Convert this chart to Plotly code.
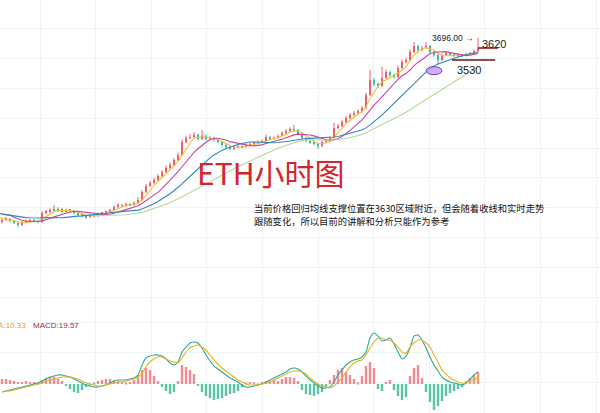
import pandas as pd
import plotly.graph_objects as go

# ---- ETH 1h candles (6 lead-in bars sit left of the visible window) ----
first_open = 2450
closes = [
    2435, 2420, 2398, 2375, 2352, 2315,
    2330, 2338, 2322, 2308, 2292, 2315, 2322, 2330, 2322, 2315,
    2383, 2390, 2405, 2398, 2412, 2390, 2405, 2398, 2383, 2368,
    2360, 2352, 2368, 2360, 2375, 2383, 2390, 2405, 2428, 2442,
    2435, 2450, 2442, 2458, 2480, 2540, 2585, 2608, 2630, 2660,
    2690, 2720, 2742, 2780, 2818, 2915, 2945, 2952, 2968, 2938,
    2960, 2938, 2945, 2930, 2915, 2892, 2878, 2862, 2878, 2885,
    2878, 2892, 2900, 2908, 2915, 2922, 2952, 2938, 2945, 2960,
    2982, 2998, 3012, 3005, 2975, 2945, 2922, 2908, 2900, 2885,
    2915, 2930, 2945, 3020, 3035, 3065, 3095, 3118, 3132, 3148,
    3170, 3268, 3380, 3350, 3335, 3395, 3440, 3418, 3402, 3470,
    3515, 3530, 3590, 3635, 3605, 3620, 3635, 3590, 3568, 3530,
    3568, 3582, 3568, 3560, 3568, 3560, 3575, 3582, 3598, 3620,
]
highs = [
    2462, 2445, 2428, 2405, 2382, 2360,
    2345, 2352, 2345, 2330, 2315, 2322, 2335, 2340, 2338, 2328,
    2398, 2405, 2418, 2442, 2425, 2420, 2415, 2412, 2405, 2390,
    2375, 2368, 2378, 2375, 2385, 2392, 2400, 2415, 2440, 2455,
    2450, 2462, 2458, 2470, 2502, 2555, 2600, 2622, 2645, 2675,
    2705, 2738, 2760, 2795, 2835, 2935, 2962, 2975, 2990, 2978,
    3005, 2970, 2960, 2955, 2940, 2922, 2900, 2885, 2890, 2898,
    2895, 2905, 2912, 2920, 2928, 2935, 2970, 2960, 2958, 2972,
    2995, 3012, 3025, 3042, 3012, 2982, 2952, 2930, 2915, 2908,
    2925, 2940, 2955, 3058, 3050, 3080, 3110, 3132, 3148, 3162,
    3185, 3285, 3455, 3395, 3362, 3478, 3458, 3450, 3428, 3488,
    3532, 3548, 3608, 3665, 3645, 3635, 3665, 3642, 3598, 3575,
    3578, 3592, 3590, 3575, 3578, 3575, 3585, 3592, 3608, 3696,
]
lows = [
    2425, 2410, 2390, 2368, 2340, 2305,
    2305, 2322, 2312, 2298, 2275, 2285, 2308, 2315, 2312, 2305,
    2310, 2372, 2380, 2388, 2390, 2380, 2385, 2388, 2375, 2360,
    2350, 2342, 2345, 2350, 2352, 2368, 2375, 2385, 2400, 2420,
    2425, 2430, 2435, 2438, 2450, 2472, 2530, 2575, 2598, 2620,
    2650, 2680, 2710, 2730, 2770, 2810, 2905, 2935, 2940, 2925,
    2930, 2925, 2930, 2918, 2905, 2882, 2865, 2850, 2855, 2870,
    2868, 2872, 2885, 2892, 2900, 2908, 2918, 2928, 2932, 2940,
    2955, 2975, 2990, 2995, 2965, 2935, 2912, 2898, 2890, 2862,
    2878, 2908, 2922, 2940, 3010, 3025, 3058, 3085, 3110, 3125,
    3140, 3162, 3260, 3335, 3320, 3328, 3385, 3405, 3390, 3395,
    3460, 3505, 3522, 3580, 3592, 3598, 3612, 3580, 3555, 3492,
    3522, 3560, 3558, 3550, 3552, 3552, 3555, 3568, 3575, 3590,
]
LEAD = 6

# ---- MACD panel values for the 120 visible bars ----
dif = [
    -13.0, -11.4, -9.8, -8.2, -6.5, -4.9, -3.3, -1.6, 0.0, 1.6,
    4.9, 8.2, 11.4, 13.0, 14.7, 14.7, 13.0, 11.4, 8.2, 4.9,
    1.6, -1.6, -3.3, -4.9, -4.9, -3.3, -1.6, 1.6, 4.9, 6.5,
    6.5, 6.5, 8.2, 9.8, 14.7, 31.0, 42.4, 45.6, 47.3, 47.3,
    45.6, 40.8, 34.2, 31.0, 35.9, 52.2, 60.3, 66.8, 68.5, 66.8,
    58.7, 47.3, 37.5, 29.3, 24.5, 19.6, 14.7, 9.8, 6.5, 3.3,
    -1.6, -4.9, -4.9, -3.3, -1.6, 0.0, 3.3, 6.5, 9.8, 13.0,
    16.3, 19.6, 24.5, 26.1, 24.5, 19.6, 13.0, 6.5, 1.6, -3.3,
    -6.5, -6.5, -4.9, 3.3, 14.7, 22.8, 31.0, 35.9, 39.1, 40.8,
    44.0, 52.2, 75.0, 83.1, 78.2, 70.1, 71.7, 75.0, 65.2, 52.2,
    40.8, 45.6, 58.7, 78.2, 79.9, 71.7, 58.7, 44.0, 31.0, 21.2,
    11.4, 6.5, 3.3, 1.6, 0.0, -1.6, 1.6, 8.0, 14.7, 20.115,
]
dea = [
    -13.0, -11.4, -11.4, -9.8, -8.2, -6.5, -4.9, -3.3, -1.6, 0.0,
    1.6, 4.9, 6.5, 8.2, 9.8, 11.4, 11.4, 11.4, 9.8, 8.2,
    4.9, 1.6, 0.0, -1.6, -3.3, -3.3, -1.6, 0.0, 1.6, 3.3,
    3.3, 4.9, 6.5, 8.2, 11.4, 17.9, 27.7, 35.9, 40.8, 44.0,
    44.0, 40.8, 37.5, 35.9, 34.2, 42.4, 52.2, 58.7, 61.9, 63.6,
    60.3, 55.4, 47.3, 39.1, 32.6, 26.1, 21.2, 16.3, 11.4, 6.5,
    3.3, 0.0, -1.6, -1.6, -1.6, 0.0, 1.6, 3.3, 6.5, 9.8,
    13.0, 16.3, 19.6, 21.2, 21.2, 19.6, 16.3, 9.8, 4.9, 0.0,
    -3.3, -4.9, -6.5, -3.3, 3.3, 9.8, 19.6, 27.7, 34.2, 37.5,
    39.1, 47.3, 58.7, 68.5, 75.0, 75.0, 71.7, 71.7, 66.8, 60.3,
    52.2, 50.5, 60.3, 66.8, 71.7, 71.7, 66.8, 60.3, 47.3, 35.9,
    22.8, 16.3, 9.8, 6.5, 3.3, 1.6, 1.6, 5.5, 7.5, 10.33,
]
macd_hist = [
    8.2, 8.2, 6.5, 4.9, 3.3, 3.3, 4.9, 3.3, 3.3, 1.6,
    6.5, 9.8, 11.4, 11.4, 8.2, 4.9, -3.3, -8.2, -13.0, -14.7,
    -9.8, -4.9, -1.6, 1.6, 4.9, 6.5, 8.2, 8.2, 6.5, 4.9,
    3.3, 1.6, 3.3, 6.5, 14.7, 22.8, 26.1, 22.8, 13.0, 4.9,
    -4.9, -11.4, -16.3, -13.0, 4.9, 31.0, 27.7, 22.8, 16.3, -3.3,
    -13.0, -19.6, -22.8, -26.1, -24.5, -22.8, -19.6, -16.3, -14.7, -11.4,
    -4.9, 1.6, 3.3, 1.6, -1.6, 3.3, 4.9, 4.9, 6.5, 4.9,
    8.2, 11.4, 11.4, 9.8, 4.9, -9.8, -16.3, -17.9, -19.6, -16.3,
    -13.0, -4.9, 6.5, 14.7, 22.8, 26.1, 19.6, 14.7, 8.2, 1.6,
    13.0, 29.3, 35.9, 26.1, -8.2, -11.4, 3.3, 6.5, -9.8, -19.6,
    -26.1, -21.2, 13.0, 26.1, 31.0, 9.8, -13.0, -29.3, -42.4, -35.9,
    -27.7, -19.6, -14.7, -11.4, -8.2, -4.9, 4.9, 9.8, 14.7, 19.57,
]

# Moving averages: (period, colour, min periods)
ma_specs = [(4, "#f2c12e", 1), (9, "#c9479f", 1), (18, "#2f86c1", 1), (33, "#b9d59f", 30)]

opens = [first_open] + closes[:-1]
xs = list(range(-LEAD, len(closes) - LEAD))
vis_x = list(range(len(dif)))
close_s = pd.Series(closes, dtype=float)

UP = "#ee5f6d"
DOWN = "#3cb79c"

fig = go.Figure()

# candle wicks, one path per colour
for is_up, color in ((True, UP), (False, DOWN)):
    wx, wy = [], []
    for x, o, h, l, c in zip(xs, opens, highs, lows, closes):
        if (c >= o) == is_up:
            wx += [x, x, None]
            wy += [l, h, None]
    fig.add_trace(go.Scatter(x=wx, y=wy, mode="lines", line=dict(color=color, width=1),
                             xaxis="x", yaxis="y", showlegend=False, hoverinfo="skip"))

# candle bodies
body_base = [min(o, c) for o, c in zip(opens, closes)]
body_len = [max(abs(c - o), 5) for o, c in zip(opens, closes)]
body_col = [UP if c >= o else DOWN for o, c in zip(opens, closes)]
fig.add_trace(go.Bar(x=xs, y=body_len, base=body_base, width=0.42,
                     marker=dict(color=body_col, line=dict(width=0)),
                     xaxis="x", yaxis="y", showlegend=False))

for period, color, minp in ma_specs:
    ma = close_s.rolling(period, min_periods=minp).mean()
    fig.add_trace(go.Scatter(
        x=xs, y=ma, mode="lines", line=dict(color=color, width=1.1),
        xaxis="x", yaxis="y", showlegend=False, hoverinfo="skip",
    ))

bar_colors = []
for i, v in enumerate(macd_hist):
    if i >= len(macd_hist) - 4 and v > 0:
        bar_colors.append("#f39a78")
    else:
        bar_colors.append("#f08a93" if v >= 0 else "#5cc3a6")

fig.add_trace(go.Bar(
    x=vis_x, y=macd_hist, marker=dict(color=bar_colors, line=dict(width=0)),
    width=0.6, xaxis="x2", yaxis="y2", showlegend=False,
))
fig.add_trace(go.Scatter(
    x=vis_x, y=dif, mode="lines", line=dict(color="#2fa89c", width=1.1, shape="spline", smoothing=0.6),
    xaxis="x2", yaxis="y2", showlegend=False,
))
fig.add_trace(go.Scatter(
    x=vis_x, y=dea, mode="lines", line=dict(color="#e6b21f", width=1.1, shape="spline", smoothing=0.6),
    xaxis="x2", yaxis="y2", showlegend=False,
))

# key price levels
last_x = vis_x[-1]
fig.add_shape(type="line", xref="x", yref="y", x0=last_x, x1=last_x + 5, y0=3620, y1=3620,
              line=dict(color="#8e1b1b", width=1.6))
fig.add_shape(type="line", xref="x", yref="y", x0=last_x - 6.5, x1=last_x + 4.3, y0=3530, y1=3530,
              line=dict(color="#6e1212", width=1.6))
low_idx = 109
fig.add_shape(type="circle", xref="x", yref="y", x0=low_idx - 3, x1=low_idx + 1,
              y0=3420, y1=3480, line=dict(color="#7a3cc4", width=1),
              fillcolor="rgba(190,150,240,0.75)")

num_font = "Liberation Sans, Arial, sans-serif"
cjk_font = "Noto Sans CJK SC, sans-serif"

fig.add_annotation(x=last_x - 0.6, y=max(highs), xref="x", yref="y", text=f"{max(highs):.2f} →",
                   showarrow=False, xanchor="right", yanchor="middle",
                   font=dict(family=num_font, size=8.5, color="#222"))
fig.add_annotation(x=last_x + 0.4, y=3650, xref="x", yref="y", text="3620",
                   showarrow=False, xanchor="left", yanchor="middle",
                   font=dict(family=num_font, size=11, color="#222"))
fig.add_annotation(x=116.8, y=3455, xref="x", yref="y", text="3530",
                   showarrow=False, xanchor="center", yanchor="middle",
                   font=dict(family=num_font, size=11, color="#222"))

fig.add_annotation(x=270 / 600, y=1 - 172 / 413, xref="paper", yref="paper", text="ETH小时图",
                   showarrow=False, xanchor="center", yanchor="middle",
                   font=dict(family=cjk_font, size=30, color="#d3252c"))
fig.add_annotation(x=252 / 600, y=1 - 208 / 413, xref="paper", yref="paper",
                   text="当前价格回归均线支撑位置在3630区域附近，但会随着收线和实时走势",
                   showarrow=False, xanchor="left", yanchor="middle",
                   font=dict(family=cjk_font, size=9.3, color="#111"))
fig.add_annotation(x=252 / 600, y=1 - 221 / 413, xref="paper", yref="paper",
                   text="跟随变化，所以目前的讲解和分析只能作为参考",
                   showarrow=False, xanchor="left", yanchor="middle",
                   font=dict(family=cjk_font, size=9.3, color="#111"))

fig.add_annotation(x=28 / 600, y=1 - 325 / 413, xref="paper", yref="paper",
                   text=f"DEA:{dea[-1]:.2f}", showarrow=False, xanchor="right", yanchor="middle",
                   font=dict(family=num_font, size=8, color="#e0a31c"))
fig.add_annotation(x=31 / 600, y=1 - 325 / 413, xref="paper", yref="paper",
                   text=f"MACD:{macd_hist[-1]:.2f}", showarrow=False, xanchor="left", yanchor="middle",
                   font=dict(family=num_font, size=8, color="#9c2e3c"))

grid = "#eef3f3"
xcommon = dict(range=[-0.5, 149.5], showgrid=True, gridcolor=grid, gridwidth=1,
               tick0=9.5, dtick=13.9, showticklabels=False, zeroline=False,
               showline=False, ticks="")
fig.update_layout(
    width=600, height=413, margin=dict(l=0, r=0, t=0, b=0),
    paper_bgcolor="white", plot_bgcolor="white", barmode="overlay",
    xaxis=dict(**xcommon, anchor="y"),
    xaxis2=dict(**xcommon, anchor="y2", matches="x"),
    yaxis=dict(domain=[0.27, 1], range=[1718.75, 3980], showgrid=True, gridcolor=grid,
               tick0=3770, dtick=225, showticklabels=False, zeroline=False, ticks=""),
    yaxis2=dict(domain=[0, 0.27], range=[-47.27, 134.5], showgrid=True, gridcolor=grid,
                tick0=3.26, dtick=48.9, showticklabels=False, zeroline=False, ticks=""),
)

fig.write_html("out.html")
